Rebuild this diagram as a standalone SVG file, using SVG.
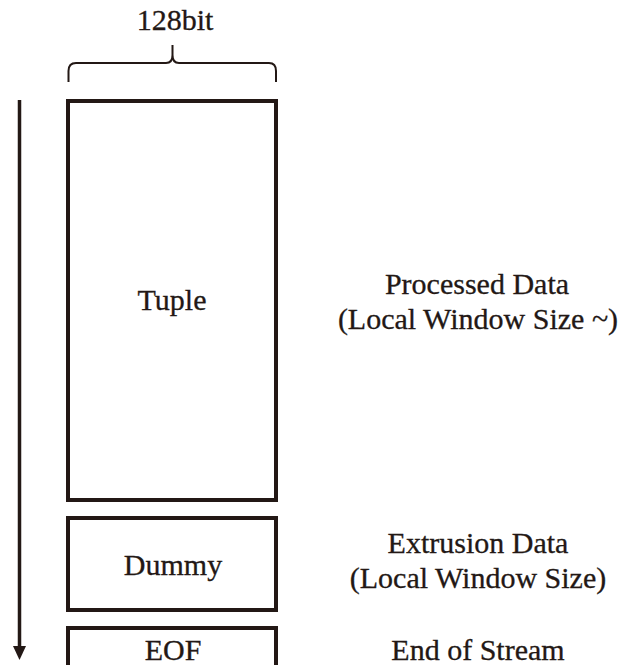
<svg xmlns="http://www.w3.org/2000/svg" width="619" height="665" viewBox="0 0 619 665">
<style>
  .t { font-family: "Liberation Serif", "Times New Roman", serif; font-size: 30px; fill: #231815; text-anchor: middle; stroke: #231815; stroke-width: 0.3; }
  .box { fill: #ffffff; stroke: #231815; stroke-width: 4; }
  .ln { fill: none; stroke: #231815; }
</style>
<rect width="619" height="665" fill="#ffffff"/>
<g id="width-label">
  <text class="t" x="175" y="30">128bit</text>
  <path class="ln" stroke-width="2" d="M68.5,82 L68.5,71 Q68.5,63 76,63 L166,63 Q172.5,63 172.5,55 L172.5,45 M172.5,45 L172.5,55 Q172.5,63 179,63 L269,63 Q276,63 276,71 L276,82"/>
</g>
<g id="connectors">
  <line class="ln" stroke-width="3.5" x1="19.5" y1="100" x2="19.5" y2="647"/>
  <polygon points="13,646 26,646 19.5,660" fill="#231815"/>
</g>
<g id="tuple">
  <rect class="box" x="68" y="101" width="208" height="399"/>
  <text class="t" x="172" y="310">Tuple</text>
</g>
<g id="dummy">
  <rect class="box" x="68" y="518" width="208" height="92"/>
  <text class="t" x="173" y="575">Dummy</text>
</g>
<g id="eof">
  <rect class="box" x="68" y="628" width="208" height="60"/>
  <text class="t" x="173" y="660">EOF</text>
</g>
<g id="labels">
  <text class="t" x="477" y="294">Processed Data</text>
  <text class="t" x="478" y="329">(Local Window Size ~)</text>
  <text class="t" x="478" y="553">Extrusion Data</text>
  <text class="t" x="478" y="588">(Local Window Size)</text>
  <text class="t" x="478" y="660">End of Stream</text>
</g>
</svg>
